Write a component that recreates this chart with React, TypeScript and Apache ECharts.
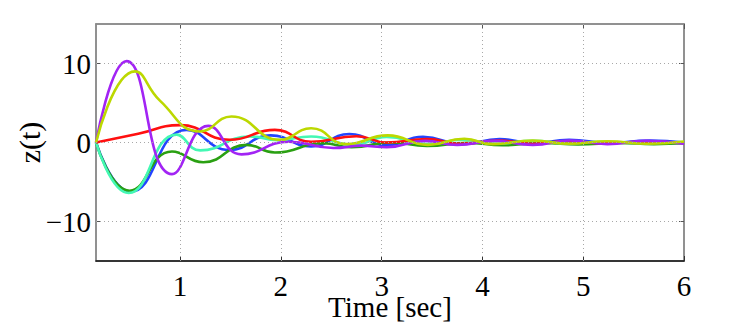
import React, { useEffect, useRef } from "react";
import * as echarts from "echarts";

const X_MIN = 0.166;
const X_MAX = 6;
const Y_MIN = -15;
const Y_MAX = 15;
const xTicks = [1, 2, 3, 4, 5, 6];
const yTicks = [-10, 0, 10];

// [time (s), z(t)] read at extrema of each response
const blue: [number, number][] = [
  [0.166, 0], [0.51, -6.2], [1.065, 1.6], [1.49, -0.95], [1.9, 0.9], [2.3, -0.5],
  [2.68, 1.07], [3.05, -0.35], [3.41, 0.72], [3.8, -0.2], [4.17, 0.45], [4.5, -0.1],
  [4.86, 0.34], [5.25, -0.05], [5.66, 0.25], [6.0, 0.0],
];
const green: [number, number][] = [
  [0.166, 0], [0.5, -6.1], [0.92, -1.14], [1.23, -2.5], [1.66, -0.3], [1.94, -1.27],
  [2.42, -0.1], [2.7, -0.6], [3.1, 0.0], [3.45, -0.45], [3.85, -0.05], [4.2, -0.35],
  [4.6, -0.05], [4.95, -0.25], [5.35, -0.05], [5.7, -0.2], [6.0, -0.1],
];
const cyan: [number, number][] = [
  [0.166, 0], [0.49, -6.4], [0.966, 1.0], [1.2, -1.0], [1.69, 0.76], [1.97, 0.3],
  [2.3, 0.76], [2.72, -0.3], [3.05, 0.7], [3.45, -0.2], [3.8, 0.35], [4.15, -0.15],
  [4.5, 0.2], [4.85, -0.1], [5.2, 0.1], [5.6, -0.05], [6.0, 0.05],
];
const purple: [number, number][] = [
  [0.166, 0], [0.47, 10.3], [0.92, -4.0], [1.28, 2.1], [1.61, -1.5], [2.08, 0.1],
  [2.52, -0.7], [2.8, -0.4], [3.05, -0.6], [3.43, 0.2], [3.75, -0.3], [4.12, 0.2],
  [4.5, -0.3], [4.87, 0.25], [5.24, -0.2], [5.62, 0.2], [6.0, -0.15],
];
const yellowGreen: [number, number][] = [
  [0.166, 0], [0.553, 9.0], [0.8, 5.3], [1.2, 1.4], [1.51, 3.3],
  [1.99, 0.34], [2.3, 1.8], [2.65, -0.2], [3.06, 0.9], [3.46, -0.3], [3.82, 0.47],
  [4.1, -0.2], [4.5, 0.25], [4.86, -0.15], [5.24, 0.15], [5.64, -0.15], [6.0, 0.13],
];
const red: [number, number][] = [
  [0.166, 0], [0.585, 1.1], [1.0, 2.2], [1.49, 0.34], [1.94, 1.6], [2.3, 0.1],
  [2.75, 0.8], [3.05, 0.0], [3.45, 0.43], [3.78, -0.15], [4.17, 0.25], [4.48, -0.15],
  [4.85, 0.15], [5.2, -0.1], [5.6, 0.1], [6.0, -0.05],
];

const seriesList = [
  { name: "blue", data: blue, color: "#2244ff" },
  { name: "green", data: green, color: "#2aa012" },
  { name: "cyan", data: cyan, color: "#44f8b4" },
  { name: "red", data: red, color: "#ff1010" },
  { name: "purple", data: purple, color: "#a224f4" },
  { name: "yellowGreen", data: yellowGreen, color: "#bcd800" },
];

const FONT = "'Liberation Serif', 'Times New Roman', serif";

export default function App() {
  const ref = useRef<HTMLDivElement>(null);
  useEffect(() => {
    if (!ref.current) return;
    const chart = echarts.init(ref.current, undefined, { renderer: "svg" });
    const gridLineStyle = { color: "#a8a8a8", type: [1, 3] as any, width: 1 };
    chart.setOption({
      animation: false,
      grid: {
        left: 96, right: 63, top: 24, bottom: 72, containLabel: false, outerBoundsMode: "none",
        show: true, borderColor: "#8a8a8a", borderWidth: 1.5, backgroundColor: "#ffffff",
      },
      xAxis: [
        {
          type: "value", min: X_MIN, max: X_MAX, position: "bottom",
          axisLine: { show: true, onZero: false, lineStyle: { color: "#111", width: 1.5 } },
          axisTick: { show: true, inside: true, length: 5, customValues: xTicks, lineStyle: { color: "#333" } },
          axisLabel: { customValues: xTicks, fontFamily: FONT, fontSize: 29, lineHeight: 18, color: "#000", margin: 16 },
          splitLine: { show: false },
          name: "Time [sec]", nameLocation: "middle", nameGap: 37, nameMoveOverlap: false,
          nameTextStyle: { fontFamily: FONT, fontSize: 29, lineHeight: 18, color: "#000" },
        },
        {
          type: "value", min: X_MIN, max: X_MAX, position: "top",
          axisLine: { show: true, onZero: false, lineStyle: { color: "#8a8a8a", width: 1.5 } },
          axisTick: { show: true, inside: true, length: 5, customValues: xTicks, lineStyle: { color: "#555" } },
          axisLabel: { show: false },
          splitLine: { show: false },
        },
      ],
      yAxis: [
        {
          type: "value", min: Y_MIN, max: Y_MAX, position: "left",
          axisLine: { show: true, onZero: false, lineStyle: { color: "#8a8a8a", width: 1.5 } },
          axisTick: { show: true, inside: true, length: 5, customValues: yTicks, lineStyle: { color: "#555" } },
          axisLabel: {
            customValues: yTicks, fontFamily: FONT, fontSize: 29, color: "#000", margin: 5,
            formatter: (v: number) => (v < 0 ? "\u2212" + Math.abs(v) : String(v)),
          },
          splitLine: { show: false },
          name: "z(t)", nameLocation: "middle", nameGap: 52, nameRotate: 90, nameMoveOverlap: false,
          nameTextStyle: { fontFamily: FONT, fontSize: 30, color: "#000" },
        },
        {
          type: "value", min: Y_MIN, max: Y_MAX, position: "right",
          axisLine: { show: true, onZero: false, lineStyle: { color: "#8a8a8a", width: 1.5 } },
          axisTick: { show: true, inside: true, length: 5, customValues: yTicks, lineStyle: { color: "#555" } },
          axisLabel: { show: false },
          splitLine: { show: false },
        },
      ],
      series: [
        {
          type: "line", data: [], silent: true,
          markLine: {
            silent: true, symbol: "none", label: { show: false }, lineStyle: gridLineStyle,
            data: [
              ...xTicks.filter((v) => v < X_MAX).map((v) => ({ xAxis: v })),
              ...yTicks.map((v) => ({ yAxis: v })),
            ],
          },
        },
        ...seriesList.map((s) => ({
          type: "line", name: s.name, data: s.data, smooth: 0.5, showSymbol: false,
          lineStyle: { color: s.color, width: 2.6 }, itemStyle: { color: s.color },
        })),
      ],
    });
    return () => chart.dispose();
  }, []);
  return <div ref={ref} style={{ position: "absolute", left: 0, top: 0, width: 747, height: 333, background: "#fff" }} />;
}
